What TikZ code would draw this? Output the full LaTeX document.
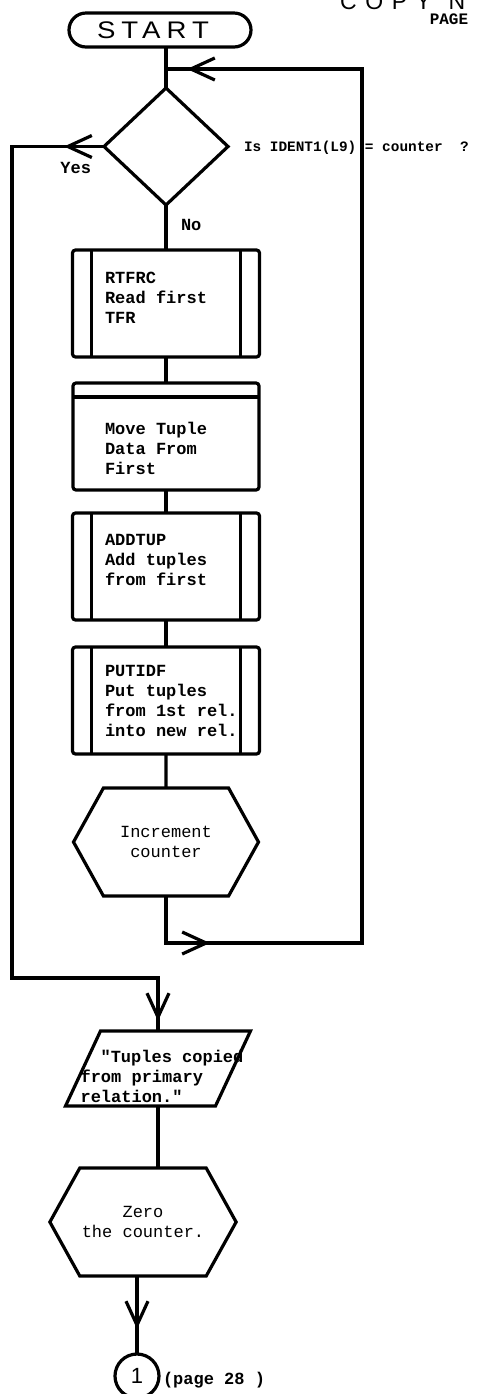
\documentclass[tikz,border=0pt]{standalone}
\usepackage{fontspec}
\setmainfont{Liberation Serif}
\newfontfamily\boxfont{Liberation Mono}
\newfontfamily\headfont[LetterSpace=10]{Liberation Sans}
\newfontfamily\startfont[LetterSpace=25, FakeStretch=1.15]{Liberation Sans}
\newfontfamily\numfont{Liberation Sans}
\usetikzlibrary{shapes.geometric, shapes.symbols, arrows.meta, positioning, calc, decorations.markings}
% typed box text: left aligned, raised by #1
\newcommand{\typed}[2][0pt]{\raisebox{#1}[\height][\depth]{\hspace*{6pt}\parbox{67pt}{\raggedright #2}}}
\tikzset{
  fc text/.style={font=\boxfont\bfseries\fontsize{8.5}{10}\selectfont},
  fc terminal/.style={
    rectangle, rounded corners=8.5pt, draw,
    minimum width=91pt, minimum height=17pt, inner sep=0pt,
    font=\startfont\fontsize{12}{12}\selectfont
  },
  fc decision/.style={
    diamond, draw, minimum width=62pt, minimum height=58.5pt, inner sep=0pt
  },
  fc predef/.style={
    rectangle, rounded corners=1.5pt, draw,
    minimum width=93.5pt, minimum height=53.5pt, fc text,
    path picture={
      \draw ([xshift=9.5pt]path picture bounding box.north west) -- ([xshift=9.5pt]path picture bounding box.south west);
      \draw ([xshift=-9.5pt]path picture bounding box.north east) -- ([xshift=-9.5pt]path picture bounding box.south east);
    }
  },
  fc process/.style={
    rectangle, rounded corners=1.5pt, draw,
    minimum width=93pt, minimum height=53.5pt, fc text,
    path picture={
      \draw ([yshift=-7pt]path picture bounding box.north west) -- ([yshift=-7pt]path picture bounding box.north east);
    }
  },
  fc prep/.style={
    signal, signal to=west and east, signal pointer angle=122, draw,
    minimum width=92.5pt, minimum height=54pt, inner xsep=1pt, align=center,
    font=\boxfont\fontsize{8.5}{10}\selectfont
  },
  fc io/.style={
    trapezium, trapezium left angle=65, trapezium right angle=115,
    draw, inner sep=0pt, fc text
  },
  fc connector/.style={
    circle, draw, minimum size=22pt, inner sep=0pt,
    font=\numfont\fontsize{11}{11}\selectfont
  },
  fc label/.style={inner sep=0pt, fc text},
  one tip/.style={
    postaction={decorate},
    decoration={markings, mark=at position #1 with {\arrow{Straight Barb[length=12pt, width=11pt]}}}
  },
  two tips/.style 2 args={
    postaction={decorate},
    decoration={markings,
      mark=at position #1 with {\arrow{Straight Barb[length=12pt, width=11pt]}},
      mark=at position #2 with {\arrow{Straight Barb[length=12pt, width=11pt]}}}
  }
}

\begin{document}
\begin{tikzpicture}[x=0.5pt, y=-0.5pt, line width=1.6pt, every node/.append style={outer sep=0pt}]
  \useasboundingbox (0,0) rectangle (478,1394);

  % page heading
  \node (copy) [anchor=base west, inner sep=0pt, font=\headfont\fontsize{11.5}{11.5}\selectfont] at (340,9) {C O P Y\ \ N};
  \node (page) [fc label, font=\boxfont\bfseries\fontsize{8}{8}\selectfont] at (449,19) {PAGE};

  \node (start) [fc terminal] at (160,30) {\hspace*{-7pt}START};
  \node (dec) [fc decision, below=20.5pt of start, xshift=3pt] {};
  \node (q) [fc label, font=\boxfont\bfseries\fontsize{7.2}{9}\selectfont, right=8pt of dec.east, yshift=-0.5pt] {Is IDENT1(L9) = counter\ \ ?};
  \node (yes) [fc label, below left=8pt and 6.5pt of dec.west] {Yes};
  \node (no) [fc label, below right=7pt and 7.5pt of dec.south] {No};

  \node (rtfrc) [fc predef, below=22.5pt of dec] {\typed[3pt]{RTFRC\\Read first\\TFR}};
  \node (move) [fc process, below=13pt of rtfrc] {\typed[-6pt]{Move Tuple\\Data From\\First}};
  \node (addtup) [fc predef, below=11.5pt of move] {\typed[3.5pt]{ADDTUP\\Add tuples\\from first}};
  \node (putidf) [fc predef, below=13.5pt of addtup] {\typed{PUTIDF\\Put tuples\\from 1st rel.\\into new rel.}};
  \node (inc) [fc prep, below=17pt of putidf] {Increment\\counter};

  \node (out) [fc io, below=67.5pt of inc, xshift=-4pt]
    {\raisebox{-7pt}[18.75pt][18.75pt]{\makebox[57.5pt]{\hspace*{4pt}\begin{tabular}{@{}l@{}}\hspace*{10pt}"Tuples copied\\from primary\\relation."\end{tabular}}}};
  \node (zero) [fc prep, below=31pt of out, xshift=-7.5pt] {Zero\\the counter.};
  \node (conn) [fc connector, below=39pt of zero, xshift=-3pt] {1};
  \node (pg) [fc label, right=2pt of conn, yshift=-2pt] {(page 28 )};

  % loop corners
  \coordinate (lt) at ([yshift=-11pt]start.south -| dec.north);
  \coordinate (rx) at (362,0);
  \coordinate (lx) at (12,0);
  \coordinate (lb) at ([yshift=-23.5pt]inc.south);
  \coordinate (ly) at ([yshift=26.5pt]out.north);

  \draw (start.south -| dec.north) -- (dec.north);
  \draw (dec.south) -- (rtfrc.north);
  \draw (rtfrc) -- (move);
  \draw (move) -- (addtup);
  \draw (addtup) -- (putidf);
  \draw (putidf) -- (inc);
  \draw [two tips={45.5pt}{-10.5pt}] (inc.south) |- (rx |- lb) |- (lt);
  \draw [two tips={20pt}{-5pt}] (dec.west) -| (lx |- ly) -- (ly) -- (out.north);
  \draw (out.south) -- (out.south |- zero.north);
  \draw [one tip={-12.5pt}] (zero.south -| conn.north) -- (conn.north);
\end{tikzpicture}
\end{document}
